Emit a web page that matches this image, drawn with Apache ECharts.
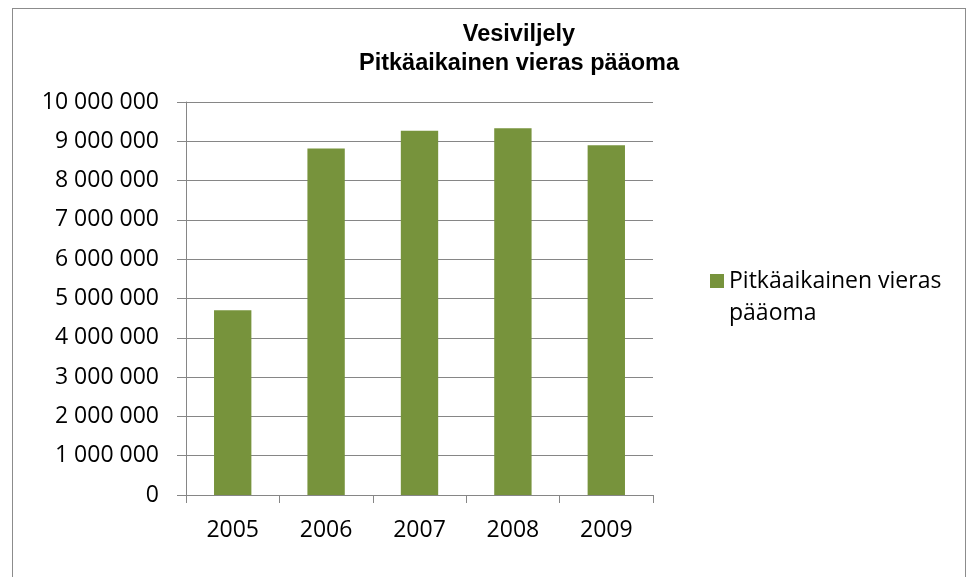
<!DOCTYPE html>
<html>
<head>
<meta charset="utf-8">
<script src="https://cdn.jsdelivr.net/npm/echarts@6/dist/echarts.min.js"></script>
<style>
html,body{margin:0;padding:0;background:#fff;}
#frame{position:absolute;left:12px;top:8px;width:954px;height:600px;border:1px solid #8c8c8c;box-sizing:border-box;}
#chart{position:absolute;left:0;top:0;width:975px;height:577px;}
</style>
</head>
<body>
<div id="frame"></div>
<div id="chart"></div>
<script>
var categories = ['2005', '2006', '2007', '2008', '2009'];
var values = [4700000, 8815000, 9270000, 9330000, 8900000];
var seriesName = 'Pitkäaikainen vieras pääoma';
var titleLines = ['Vesiviljely', 'Pitkäaikainen vieras pääoma'];
var legendLines = ['Pitkäaikainen vieras', 'pääoma'];

function fmt(v) {
  return String(v).replace(/\B(?=(\d{3})+(?!\d))/g, ' ');
}

var FONT = '"Open Sans", "Noto Sans", sans-serif';
var chart = echarts.init(document.getElementById('chart'), null, {renderer: 'canvas'});
chart.setOption({
  animation: false,
  backgroundColor: 'transparent',
  title: {
    text: titleLines.join('\n'),
    left: 519,
    textAlign: 'center',
    top: 20,
    padding: 0,
    textStyle: {fontFamily: '"Liberation Sans", Arial, sans-serif', fontWeight: 'bold', fontSize: 23.5, lineHeight: 29, color: '#000'}
  },
  legend: {
    orient: 'vertical',
    left: 710,
    top: 233,
    padding: 0,
    itemWidth: 14,
    itemHeight: 14,
    itemGap: 7,
    icon: 'rect',
    formatter: function () { return ' \n' + legendLines.join('\n'); },
    textStyle: {fontFamily: FONT, fontSize: 23, lineHeight: 32, color: '#000'}
  },
  grid: {left: 186, top: 102, width: 467, height: 393, containLabel: false},
  xAxis: {
    type: 'category',
    data: categories,
    axisLine: {lineStyle: {color: '#868686', width: 1}},
    axisTick: {show: true, length: 8, inside: false, lineStyle: {color: '#868686'}},
    axisLabel: {fontFamily: FONT, fontSize: 23, color: '#000', margin: 24}
  },
  yAxis: {
    type: 'value',
    min: 0,
    max: 10000000,
    interval: 1000000,
    axisLine: {show: true, lineStyle: {color: '#868686', width: 1}},
    axisTick: {show: true, length: 9, lineStyle: {color: '#868686'}},
    splitLine: {lineStyle: {color: '#868686', width: 1}},
    axisLabel: {fontFamily: FONT, fontSize: 23, color: '#000', margin: 27, formatter: fmt}
  },
  series: [{
    name: seriesName,
    type: 'bar',
    data: values,
    barCategoryGap: '60%',
    itemStyle: {color: '#77933C'}
  }]
});
</script>
</body>
</html>
